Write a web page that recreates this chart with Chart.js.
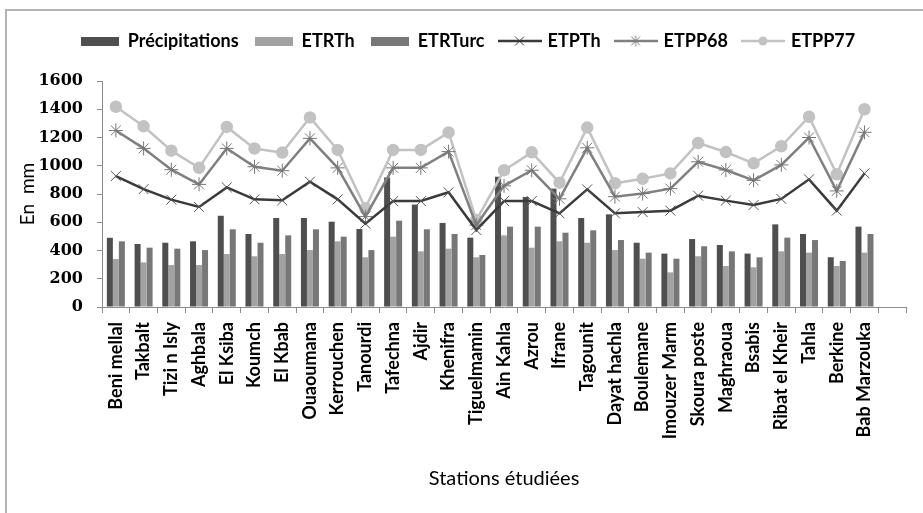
<!DOCTYPE html>
<html>
<head>
<meta charset="utf-8">
<script src="https://cdn.jsdelivr.net/npm/chart.js@4.4.1/dist/chart.umd.min.js"></script>
<style>
  html, body { margin: 0; padding: 0; background: #fff; }
  #wrap { position: relative; width: 923px; height: 513px; }
</style>
</head>
<body>
<div id="wrap"><canvas id="chart" width="923" height="513"></canvas></div>
<script>
// stations (last slot is empty, as in the original)
var stations = ['Beni mellal', 'Takbalt', 'Tizi n Isly', 'Aghbala', 'El Ksiba', 'Koumch', 'El Kbab',
  'Ouaoumana', 'Kerrouchen', 'Tanourdi', 'Tafechna', 'Ajdir', 'Khenifra', 'Tiguelmamin', 'Ain Kahla',
  'Azrou', 'Ifrane', 'Tagounit', 'Dayat hachla', 'Boulemane', 'Imouzer Marm', 'Skoura poste',
  'Maghraoua', 'Bsabis', 'Ribat el Kheir', 'Tahla', 'Berkine', 'Bab Marzouka', ''];

var precip  = [490, 446, 455, 465, 646, 517, 630, 630, 604, 552, 916, 725, 595, 491, 922, 779, 838, 630, 656, 455, 378, 481, 439, 378, 585, 517, 352, 569];
var etrTh   = [340, 316, 297, 297, 375, 359, 375, 403, 465, 352, 498, 394, 413, 352, 507, 420, 465, 455, 403, 342, 245, 359, 290, 281, 394, 385, 290, 385];
var etrTurc = [465, 420, 413, 403, 550, 455, 507, 550, 498, 403, 611, 550, 517, 368, 569, 569, 526, 543, 474, 385, 342, 430, 394, 352, 491, 474, 326, 517];
var etpTh   = [927, 834, 760, 708, 847, 762, 755, 887, 762, 590, 750, 750, 812, 545, 750, 750, 663, 833, 663, 672, 682, 788, 753, 722, 765, 904, 682, 946];
var etpp68  = [1250, 1123, 972, 868, 1123, 993, 965, 1194, 985, 640, 985, 985, 1100, 580, 858, 968, 766, 1127, 781, 803, 838, 1028, 970, 897, 1006, 1200, 822, 1237];
var etpp77  = [1418, 1279, 1107, 985, 1275, 1122, 1093, 1342, 1112, 700, 1112, 1112, 1236, 616, 968, 1095, 880, 1270, 876, 908, 946, 1161, 1097, 1017, 1138, 1347, 940, 1400];

var yTicks = [0, 200, 400, 600, 800, 1000, 1200, 1400, 1600];

var cPrecip = '#4f4f4f', cEtrTh = '#a2a2a2', cEtrTurc = '#777777';
var cEtpTh = '#3a3a3a', cEtp68 = '#808080', cEtp77 = '#c2c2c2';

function barIcon(color) {
  var c = document.createElement('canvas');
  c.width = 38; c.height = 9;
  var g = c.getContext('2d');
  g.fillStyle = color;
  g.fillRect(0, 0, 38, 9);
  return c;
}

function lineIcon(color, marker) {
  var c = document.createElement('canvas');
  c.width = 44; c.height = 14;
  var g = c.getContext('2d');
  g.strokeStyle = color; g.lineWidth = 2.5;
  g.beginPath(); g.moveTo(0, 7); g.lineTo(44, 7); g.stroke();
  g.lineWidth = 1;
  var r = 5.5;
  if (marker === 'circle') {
    g.fillStyle = color;
    g.beginPath(); g.arc(22, 7, 4.5, 0, Math.PI * 2); g.fill();
  } else {
    g.beginPath();
    g.moveTo(22 - r * 0.8, 7 - r * 0.8); g.lineTo(22 + r * 0.8, 7 + r * 0.8);
    g.moveTo(22 - r * 0.8, 7 + r * 0.8); g.lineTo(22 + r * 0.8, 7 - r * 0.8);
    if (marker === 'star') { g.moveTo(22, 7 - r); g.lineTo(22, 7 + r); }
    g.stroke();
  }
  return c;
}

var icons = [barIcon(cPrecip), barIcon(cEtrTh), barIcon(cEtrTurc),
  lineIcon(cEtpTh, 'cross'), lineIcon(cEtp68, 'star'), lineIcon(cEtp77, 'circle')];

var frame = {
  id: 'frame',
  afterInit: function(chart) {
    var lg = chart.legend;
    var fit = lg.fit.bind(lg);
    lg.fit = function() { fit(); this.height = 65; };
    // legend sits a bit right of centre in the original
    var drawLegend = lg.draw.bind(lg);
    lg.draw = function() {
      chart.ctx.save();
      chart.ctx.translate(12, 0);
      drawLegend();
      chart.ctx.restore();
    };
  },
  beforeDraw: function(chart) {
    var ctx = chart.ctx;
    ctx.save();
    ctx.fillStyle = '#fff';
    ctx.fillRect(0, 0, chart.width, chart.height);
    ctx.strokeStyle = '#b4b4b4';
    ctx.lineWidth = 2;
    ctx.strokeRect(6, 10, 1000, 1000);
    ctx.restore();
  }
};

function draw() {
  var ctx = document.getElementById('chart').getContext('2d');
  new Chart(ctx, {
    type: 'bar',
    data: {
      labels: stations,
      datasets: [
        { label: 'Précipitations', data: precip, backgroundColor: cPrecip, order: 2 },
        { label: 'ETRTh', data: etrTh, backgroundColor: cEtrTh, order: 2 },
        { label: 'ETRTurc', data: etrTurc, backgroundColor: cEtrTurc, order: 2 },
        { type: 'line', label: 'ETPTh', data: etpTh, borderColor: cEtpTh, borderWidth: 2.5,
          pointStyle: 'crossRot', pointRadius: 7, pointBorderColor: '#555', pointBorderWidth: 1,
          backgroundColor: cEtpTh, order: 1 },
        { type: 'line', label: 'ETPP68', data: etpp68, borderColor: cEtp68, borderWidth: 2.5,
          pointStyle: 'star', pointRadius: 7, pointBorderColor: '#777', pointBorderWidth: 1,
          backgroundColor: cEtp68, order: 1 },
        { type: 'line', label: 'ETPP77', data: etpp77, borderColor: cEtp77, borderWidth: 2.5,
          pointStyle: 'circle', pointRadius: 5, pointBorderColor: cEtp77, pointBackgroundColor: cEtp77,
          backgroundColor: cEtp77, order: 1 }
      ]
    },
    options: {
      responsive: false,
      animation: false,
      devicePixelRatio: 1,
      layout: { padding: { top: 16, right: 11, bottom: 0, left: 0 } },
      datasets: { bar: { categoryPercentage: 0.65, barPercentage: 1.0, borderWidth: 0 } },
      plugins: {
        tooltip: { enabled: false },
        legend: {
          position: 'top',
          labels: {
            usePointStyle: true,
            pointStyleWidth: 38,
            padding: 16,
            color: '#000',
            font: { family: 'Lato', size: 18, weight: 'bold' },
            generateLabels: function(chart) {
              var items = Chart.defaults.plugins.legend.labels.generateLabels(chart);
              items.forEach(function(it) { it.pointStyle = icons[it.datasetIndex]; });
              return items;
            },
            sort: function(a, b) { return a.datasetIndex - b.datasetIndex; }
          }
        }
      },
      scales: {
        x: {
          grid: { display: true, drawOnChartArea: false, drawTicks: true, tickLength: 6, color: '#8c8c8c' },
          border: { color: '#8c8c8c', width: 1 },
          ticks: {
            autoSkip: false, minRotation: 90, maxRotation: 90, padding: 9, color: '#000',
            font: { family: 'Lato', size: 18, weight: 'bold' }
          },
          title: {
            display: true, text: 'Stations étudiées', color: '#000',
            font: { family: 'Lato', size: 20, weight: 'normal' },
            padding: { top: 4, bottom: 22 }
          },
          afterFit: function(scale) { scale.height = 206; }
        },
        y: {
          min: 0, max: 1600,
          afterBuildTicks: function(scale) {
            scale.ticks = yTicks.map(function(v) { return { value: v }; });
          },
          grid: { display: true, drawOnChartArea: false, drawTicks: true, tickLength: 5, color: '#8c8c8c' },
          border: { color: '#8c8c8c', width: 1 },
          ticks: {
            padding: 14, color: '#000',
            font: { family: 'DejaVu Serif', size: 16, weight: 'bold' },
            callback: function(v) { return String(v); }
          },
          title: {
            display: true, text: 'En  mm', color: '#000',
            font: { family: 'Lato', size: 19, weight: 'normal' },
            padding: { top: 16, bottom: 0 }
          },
          afterFit: function(scale) { scale.width = 102; }
        }
      }
    },
    plugins: [frame]
  });
}

if (document.fonts && document.fonts.load) {
  Promise.all([
    document.fonts.load('bold 18px Lato'),
    document.fonts.load('20px Lato'),
    document.fonts.load('bold 16px "DejaVu Serif"')
  ]).then(draw, draw);
} else {
  draw();
}
</script>
</body>
</html>
